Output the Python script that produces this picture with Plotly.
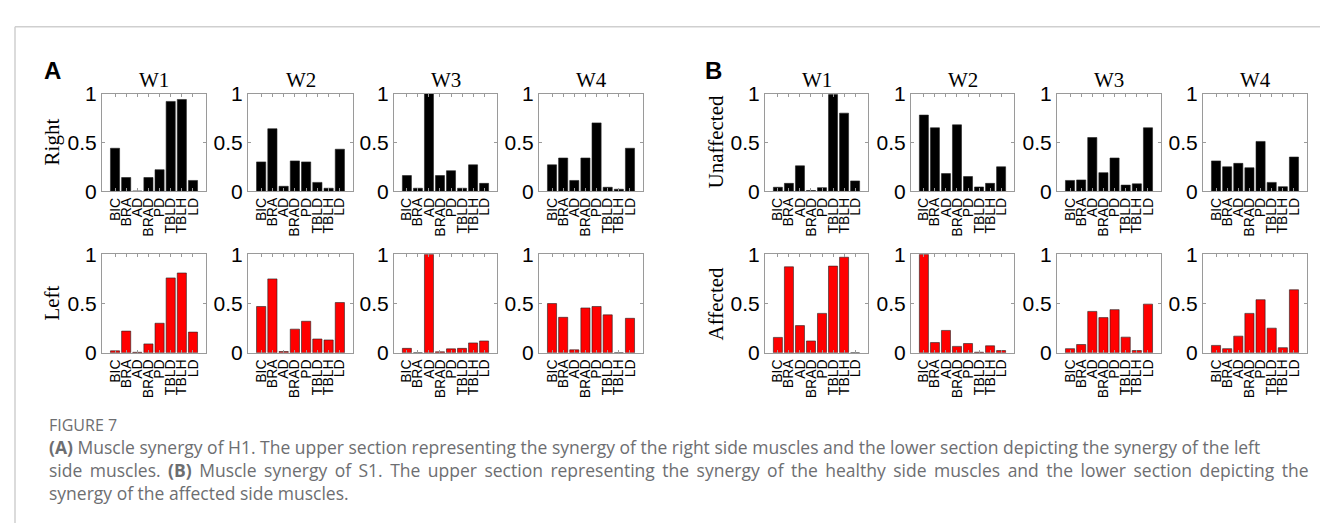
import plotly.graph_objects as go

muscles = ["BIC", "BRA", "AD", "BRAD", "PD", "TBLD", "TBLH", "LD"]
windows = ["W1", "W2", "W3", "W4"]

# Panel A (H1)
a_right = [
    [0.44, 0.14, 0.00, 0.14, 0.22, 0.92, 0.94, 0.11],
    [0.30, 0.64, 0.05, 0.31, 0.30, 0.09, 0.03, 0.43],
    [0.16, 0.03, 1.00, 0.16, 0.21, 0.03, 0.27, 0.08],
    [0.27, 0.34, 0.11, 0.34, 0.70, 0.04, 0.02, 0.44],
]
a_left = [
    [0.02, 0.22, 0.005, 0.09, 0.30, 0.76, 0.81, 0.21],
    [0.47, 0.75, 0.013, 0.24, 0.32, 0.14, 0.13, 0.51],
    [0.045, 0.0, 1.00, 0.01, 0.04, 0.045, 0.10, 0.12],
    [0.50, 0.36, 0.03, 0.455, 0.47, 0.385, 0.0, 0.35],
]
# Panel B (S1)
b_unaffected = [
    [0.04, 0.08, 0.26, 0.007, 0.036, 0.99, 0.80, 0.105],
    [0.78, 0.65, 0.18, 0.68, 0.15, 0.043, 0.08, 0.25],
    [0.11, 0.115, 0.55, 0.19, 0.34, 0.062, 0.075, 0.65],
    [0.31, 0.25, 0.285, 0.24, 0.51, 0.09, 0.046, 0.35],
]
b_affected = [
    [0.156, 0.873, 0.276, 0.12, 0.40, 0.88, 0.97, 0.0],
    [1.00, 0.104, 0.227, 0.065, 0.094, 0.006, 0.071, 0.023],
    [0.042, 0.084, 0.42, 0.357, 0.438, 0.159, 0.023, 0.494],
    [0.075, 0.042, 0.169, 0.40, 0.539, 0.25, 0.052, 0.64],
]

row_labels = {"A": ["Right", "Left"], "B": ["Unaffected", "Affected"]}
panel_data = {"A": [a_right, a_left], "B": [b_unaffected, b_affected]}
bar_colors = ["#000000", "#ff0000"]

W, H = 1328, 526
col_px = {
    "A": [(94, 198), (240, 345), (386, 489), (531, 635)],
    "B": [(757, 860), (903, 1006), (1049, 1153), (1195, 1299)],
}
row_px = [(77, 179), (245, 348)]


def fx(x):
    return x / W


def fy(y):
    return 1 - y / H


fig = go.Figure()
layout = {}
annotations = []
axis_color = "#9a9a9a"
tick_font = dict(family="Liberation Sans, Arial, sans-serif", size=21, color="#000")
cat_font = dict(family="Liberation Sans, Arial, sans-serif", size=14, color="#000")
serif = "Liberation Serif, Times New Roman, serif"

idx = 0
for panel in ["A", "B"]:
    for r in range(2):
        for c in range(4):
            idx += 1
            sfx = "" if idx == 1 else str(idx)
            x0, x1 = col_px[panel][c]
            y0, y1 = row_px[r]
            fig.add_trace(go.Bar(
                x=muscles, y=panel_data[panel][r][c],
                marker=dict(color=bar_colors[r], line=dict(color="#222", width=0.6)),
                width=0.82, xaxis="x" + sfx, yaxis="y" + sfx,
                showlegend=False, hoverinfo="x+y",
            ))
            layout["xaxis" + sfx] = dict(
                domain=[fx(x0), fx(x1)], anchor="y" + sfx,
                type="category", range=[-1.17, 8.17],
                tickmode="array", tickvals=muscles, ticktext=muscles,
                showline=True, linecolor=axis_color, linewidth=1, mirror="ticks",
                ticks="inside", ticklen=3, tickcolor=axis_color,
                tickangle=-90, tickfont=cat_font, showgrid=False, zeroline=False,
                fixedrange=True,
            )
            layout["yaxis" + sfx] = dict(
                domain=[fy(y1), fy(y0)], anchor="x" + sfx,
                range=[0, 1], tickvals=[0, 0.5, 1], ticktext=["0", "0.5", "1"],
                showline=True, linecolor=axis_color, linewidth=1, mirror="ticks",
                ticks="inside", ticklen=3, tickcolor=axis_color,
                tickfont=tick_font, showgrid=False, zeroline=False, fixedrange=True,
            )
            if r == 0:
                annotations.append(dict(
                    text=windows[c], x=fx((x0 + x1) / 2), y=fy(63),
                    xref="paper", yref="paper", xanchor="center", yanchor="middle",
                    showarrow=False, font=dict(family=serif, size=21, color="#000"),
                ))
    for r in range(2):
        y0, y1 = row_px[r]
        lx = 44 if panel == "A" else 708
        annotations.append(dict(
            text=row_labels[panel][r], x=fx(lx), y=fy((y0 + y1) / 2),
            xref="paper", yref="paper", xanchor="center", yanchor="middle",
            textangle=-90, showarrow=False,
            font=dict(family=serif, size=21, color="#000"),
        ))

annotations.append(dict(text="<b>A</b>", x=fx(44), y=fy(53), xref="paper", yref="paper",
                        xanchor="center", yanchor="middle", showarrow=False,
                        font=dict(family="Liberation Sans, Arial", size=24, color="#000")))
annotations.append(dict(text="<b>B</b>", x=fx(705), y=fy(53), xref="paper", yref="paper",
                        xanchor="center", yanchor="middle", showarrow=False,
                        font=dict(family="Liberation Sans, Arial", size=24, color="#000")))

cap_color = "#6d6e71"
cap_font = dict(family="Open Sans, Lato, sans-serif", size=17.5, color=cap_color)
line2 = ("side muscles. <b>(B)</b> Muscle synergy of S1. The upper section representing the "
         "synergy of the healthy side muscles and the lower section depicting the")
line2 = line2.replace(" ", " \u2006")  # approximate justified word spacing
caption_lines = [
    ("FIGURE 7", 423, 16),
    ("<b>(A)</b> Muscle synergy of H1. The upper section representing the synergy of the right side muscles and the lower section depicting the synergy of the left", 447, 17.5),
    (line2, 471, 17.5),
    ("synergy of the affected side muscles.", 495, 17.5),
]
for txt, yy, fs in caption_lines:
    annotations.append(dict(text=txt, x=fx(39), y=fy(yy), xref="paper", yref="paper",
                            xanchor="left", yanchor="middle", showarrow=False,
                            font=dict(family="Open Sans, Lato, sans-serif", size=fs,
                                      color=cap_color)))

shapes = [
    dict(type="line", xref="paper", yref="paper", x0=fx(7), x1=1.0, y0=fy(7), y1=fy(7),
         line=dict(color="#cfcfcf", width=1.5)),
    dict(type="line", xref="paper", yref="paper", x0=fx(7), x1=fx(7), y0=fy(7), y1=0,
         line=dict(color="#cfcfcf", width=1.5)),
]

fig.update_layout(
    width=W, height=H, margin=dict(l=0, r=0, t=0, b=0),
    paper_bgcolor="white", plot_bgcolor="white", showlegend=False,
    annotations=annotations, shapes=shapes, bargap=0.2, **layout,
)

fig.write_html("out.html")
